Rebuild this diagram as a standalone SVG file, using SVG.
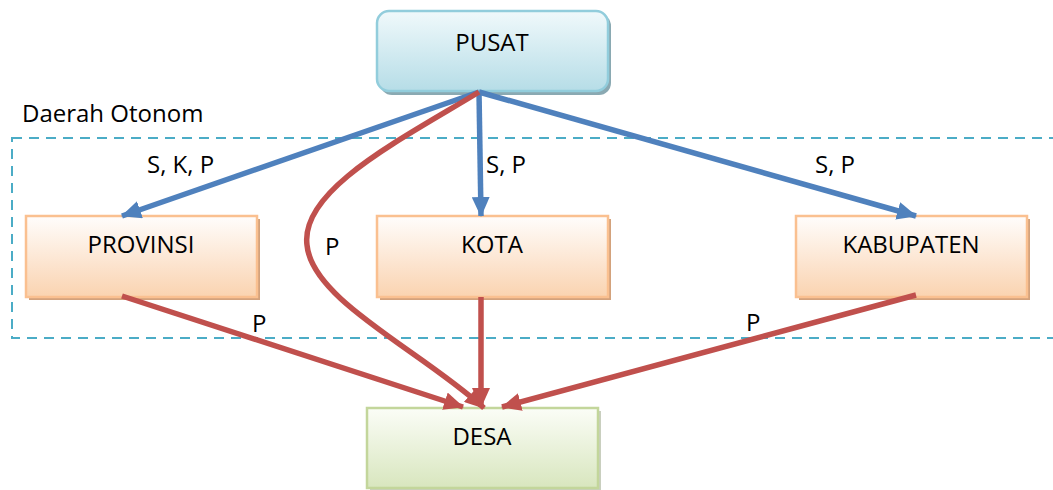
<svg xmlns="http://www.w3.org/2000/svg" width="1053" height="490" viewBox="0 0 1053 490">
  <defs>
    <linearGradient id="gBlue" x1="0" y1="0" x2="0" y2="1">
      <stop offset="0" stop-color="#f0f9fb"/>
      <stop offset="1" stop-color="#b6dde7"/>
    </linearGradient>
    <linearGradient id="gOrange" x1="0" y1="0" x2="0" y2="1">
      <stop offset="0" stop-color="#fffdfc"/>
      <stop offset="1" stop-color="#fad3b0"/>
    </linearGradient>
    <linearGradient id="gGreen" x1="0" y1="0" x2="0" y2="1">
      <stop offset="0" stop-color="#fbfdf7"/>
      <stop offset="1" stop-color="#d8e6be"/>
    </linearGradient>
    <marker id="ahBlue" markerUnits="userSpaceOnUse" viewBox="0 0 20 18" markerWidth="20" markerHeight="18" refX="19" refY="9" orient="auto">
      <path d="M0,0 L20,9 L0,18 Z" fill="#4f81bd"/>
    </marker>
    <marker id="ahRed" markerUnits="userSpaceOnUse" viewBox="0 0 20 18" markerWidth="20" markerHeight="18" refX="19" refY="9" orient="auto">
      <path d="M0,0 L20,9 L0,18 Z" fill="#c0504d"/>
    </marker>
  </defs>
  <style>
    .lbl { font-family: "Open Sans", "Liberation Sans", sans-serif; font-size: 24px; fill: #000; }
    .c { text-anchor: middle; }
    .blue { fill: none; stroke: #4f81bd; stroke-width: 5.5; marker-end: url(#ahBlue); }
    .red { fill: none; stroke: #c0504d; stroke-width: 5.5; marker-end: url(#ahRed); }
    .oBox { fill: url(#gOrange); stroke: #fac090; stroke-width: 2.5; }
    .oShadow { fill: #d3a27c; }
  </style>

  <g id="region">
    <rect x="12" y="138" width="1060" height="200" fill="none" stroke="#4bacc6" stroke-width="2" stroke-dasharray="10 7"/>
    <text class="lbl" x="22" y="122">Daerah Otonom</text>
  </g>

  <g id="pusat">
    <rect x="380" y="14" width="231" height="81" rx="12" fill="#8aa9b2"/>
    <rect x="377" y="11" width="231" height="80" rx="12" fill="url(#gBlue)" stroke="#92cddc" stroke-width="2.5"/>
    <text class="lbl c" x="492" y="51">PUSAT</text>
  </g>

  <g id="provinsi">
    <rect class="oShadow" x="29" y="219" width="231" height="81"/>
    <rect class="oBox" x="26" y="216" width="231" height="81"/>
    <text class="lbl c" x="141" y="253">PROVINSI</text>
  </g>

  <g id="kota">
    <rect class="oShadow" x="380" y="219" width="231" height="81"/>
    <rect class="oBox" x="377" y="216" width="231" height="81"/>
    <text class="lbl c" x="492" y="253">KOTA</text>
  </g>

  <g id="kabupaten">
    <rect class="oShadow" x="799" y="219" width="231" height="81"/>
    <rect class="oBox" x="796" y="216" width="231" height="81"/>
    <text class="lbl c" x="911" y="253">KABUPATEN</text>
  </g>

  <g id="desa">
    <rect x="370" y="411" width="231" height="80" fill="#c9cfbf"/>
    <rect x="367" y="408" width="231" height="80" fill="url(#gGreen)" stroke="#c3d69b" stroke-width="2.5"/>
    <text class="lbl c" x="482" y="445">DESA</text>
  </g>

  <g id="connectors">
    <path class="blue" d="M479,92 L122,216"/>
    <path class="blue" d="M479,92 L481,216"/>
    <path class="blue" d="M479,92 L916,216"/>
    <path class="red" d="M479,92 C400,140 300,190 307,245 C312,300 420,350 484,408"/>
    <path class="red" d="M122,296 L463,407"/>
    <path class="red" d="M481,297 L481,407"/>
    <path class="red" d="M916,295 L502,407"/>
    <text class="lbl" x="147" y="173">S, K, P</text>
    <text class="lbl" x="486" y="173">S, P</text>
    <text class="lbl" x="815" y="173">S, P</text>
    <text class="lbl" x="325" y="255">P</text>
    <text class="lbl" x="252" y="332">P</text>
    <text class="lbl" x="746" y="331">P</text>
  </g>
</svg>
